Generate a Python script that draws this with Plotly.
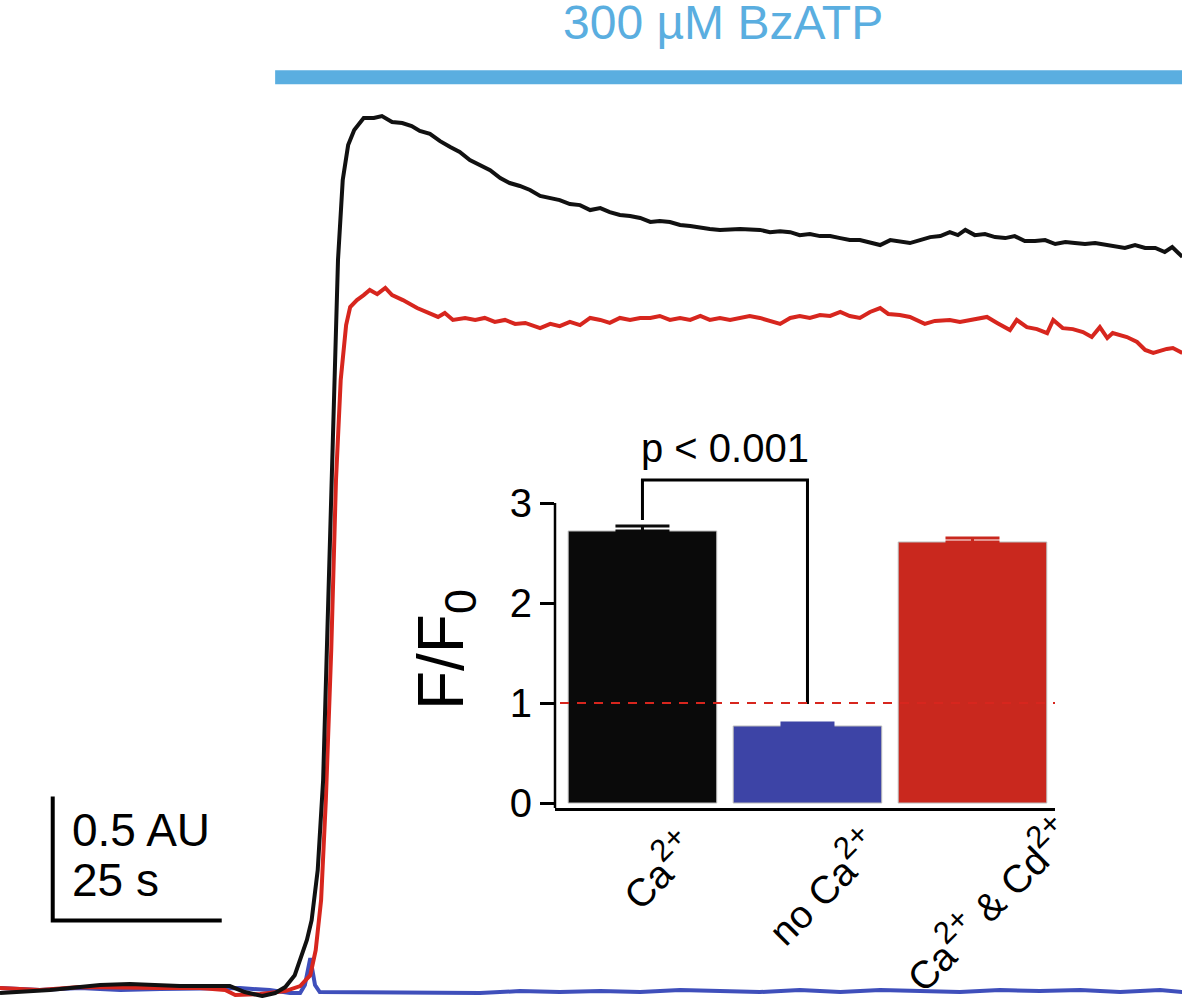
import plotly.graph_objects as go

# ---------------- data: calcium imaging traces (time in s, signal in AU) -------------
ca_t = [0.0, 7.4, 14.8, 19.2, 26.6, 34.0, 36.2, 38.8, 40.7, 42.2, 43.6, 45.4, 46.1, 47.0, 47.8,
        48.5, 49.3, 50.0, 50.7, 51.5, 52.4, 53.8, 55.3, 56.5, 58.0, 59.5, 60.9, 62.1, 63.6, 65.1,
        66.6, 68.0, 69.5, 71.0, 72.5, 74.0, 75.4, 76.9, 78.4, 79.9, 81.4, 82.8, 84.3, 85.8, 87.3,
        88.8, 90.2, 91.7, 93.2, 94.7, 96.2, 97.6, 99.1, 100.6, 102.1, 103.6, 105.0, 106.5, 109.5,
        112.4, 113.9, 115.4, 116.9, 118.3, 119.8, 121.3, 122.8, 124.3, 125.7, 127.2, 128.7, 130.2,
        131.7, 133.1, 134.6, 136.1, 137.6, 139.1, 140.5, 141.7, 142.8, 144.2, 145.7, 147.2, 148.7,
        150.1, 151.6, 153.1, 154.6, 156.1, 157.6, 159.0, 160.5, 162.0, 163.5, 165.0, 166.4, 167.9,
        169.4, 170.9, 172.3, 173.4, 174.9]
ca_v = [-0.012, 0.000, 0.020, 0.024, 0.016, 0.016, -0.008, -0.024, -0.012, 0.012, 0.060, 0.202,
        0.282, 0.484, 0.847, 1.492, 2.298, 2.944, 3.266, 3.407, 3.468, 3.516, 3.516, 3.524, 3.500,
        3.496, 3.484, 3.464, 3.452, 3.423, 3.399, 3.379, 3.347, 3.327, 3.306, 3.274, 3.254, 3.242,
        3.226, 3.202, 3.194, 3.185, 3.169, 3.165, 3.145, 3.153, 3.137, 3.125, 3.121, 3.113, 3.097,
        3.101, 3.097, 3.085, 3.081, 3.073, 3.069, 3.065, 3.069, 3.065, 3.056, 3.060, 3.056, 3.044,
        3.048, 3.040, 3.040, 3.032, 3.024, 3.024, 3.016, 3.004, 3.024, 3.020, 3.012, 3.024, 3.036,
        3.040, 3.056, 3.044, 3.065, 3.044, 3.048, 3.036, 3.032, 3.040, 3.020, 3.020, 3.024, 3.008,
        3.016, 3.012, 3.008, 3.012, 3.004, 3.000, 2.992, 3.004, 2.992, 2.992, 2.976, 2.996, 2.956]

cd_t = [0.0, 5.9, 11.8, 17.8, 23.7, 29.6, 33.3, 34.8, 38.5, 42.2, 44.4, 45.9, 46.7, 47.5, 48.2,
        49.0, 49.7, 50.4, 51.2, 51.8, 52.8, 53.8, 54.7, 55.8, 57.0, 58.0, 59.6, 61.7, 63.6, 64.8,
        65.8, 67.0, 68.8, 70.3, 71.7, 73.2, 74.7, 76.2, 77.7, 79.9, 81.4, 82.8, 84.3, 85.8, 87.3,
        88.8, 90.2, 91.7, 93.2, 94.7, 96.2, 97.6, 99.1, 100.6, 102.1, 103.6, 105.0, 106.5, 108.0,
        109.5, 110.9, 112.4, 113.9, 115.4, 116.9, 118.3, 119.8, 121.3, 122.8, 124.3, 125.7, 127.2,
        128.7, 130.2, 131.4, 133.1, 134.6, 136.8, 138.3, 140.5, 142.0, 143.5, 146.0, 147.5, 149.4,
        150.4, 151.9, 153.4, 154.9, 155.8, 157.2, 158.7, 160.2, 161.5, 162.7, 163.8, 164.6, 166.7,
        168.2, 169.4, 170.6, 172.6, 173.5, 174.9]
cd_v = [0.008, 0.000, 0.012, 0.008, 0.008, 0.008, 0.000, -0.020, -0.016, -0.004, 0.016, 0.060,
        0.161, 0.363, 0.766, 1.371, 2.056, 2.460, 2.681, 2.754, 2.782, 2.802, 2.823, 2.806, 2.831,
        2.802, 2.782, 2.750, 2.730, 2.714, 2.730, 2.702, 2.710, 2.702, 2.710, 2.694, 2.702, 2.686,
        2.690, 2.669, 2.686, 2.677, 2.694, 2.681, 2.710, 2.702, 2.690, 2.710, 2.702, 2.710, 2.710,
        2.718, 2.702, 2.710, 2.702, 2.718, 2.702, 2.710, 2.702, 2.710, 2.718, 2.710, 2.698, 2.686,
        2.710, 2.718, 2.710, 2.722, 2.718, 2.734, 2.718, 2.710, 2.734, 2.750, 2.726, 2.722, 2.714,
        2.686, 2.698, 2.702, 2.694, 2.702, 2.714, 2.690, 2.661, 2.702, 2.673, 2.665, 2.649, 2.702,
        2.669, 2.665, 2.653, 2.633, 2.673, 2.629, 2.649, 2.633, 2.613, 2.581, 2.569, 2.585, 2.589,
        2.569]

noca_t = [0.0, 5.9, 11.8, 17.8, 23.7, 29.6, 35.5, 39.9, 42.9, 44.4, 45.1, 45.9, 46.6, 47.3, 53.3,
          59.2, 65.1, 71.0, 76.9, 82.8, 88.8, 94.7, 100.6, 106.5, 112.4, 118.3, 124.3, 130.2,
          136.1, 142.0, 147.9, 153.8, 159.8, 165.7, 171.6, 174.9]
noca_v = [0.008, 0.000, 0.008, 0.000, 0.004, 0.004, 0.008, 0.000, -0.012, -0.012, 0.020, 0.129,
          0.020, -0.008, -0.008, -0.012, -0.008, -0.012, -0.004, -0.008, -0.004, -0.008, 0.000,
          -0.004, -0.008, 0.000, -0.008, 0.000, -0.004, -0.008, 0.000, -0.004, 0.000, -0.008,
          0.000, -0.008]

# agonist application window (s) and scale bar
drug_label = "300 µM BzATP"
drug_on, drug_off = 40.7, 174.9
scale_t0, scale_v0 = 7.8, 0.28
scale_dt, scale_dv = 25, 0.5

# ---------------- data: inset summary -----------------------------------------------
SUP = '<sup style="font-size:80% !important">2+</sup>'
categories = ["Ca" + SUP, "no Ca" + SUP, "Ca" + SUP + " &amp; Cd" + SUP]
ff0_mean = [2.72, 0.77, 2.61]
ff0_sem = [0.05, 0.03, 0.04]
bar_colors = ["#0a0a0a", "#3d44a6", "#c9281e"]
p_text = "p < 0.001"
y_ticks = [0, 1, 2, 3]

W, H = 1182, 998          # reference geometry (positions below are fractions of this)
FIG_H = 1015              # rendered height (photo is squeezed vertically to 998)
FONT = "Liberation Sans, Arial, Helvetica, sans-serif"
BLUE_BAR = "#5aaee0"

fig = go.Figure()

# traces
fig.add_trace(go.Scatter(x=noca_t, y=noca_v, mode="lines",
                         line=dict(color="#3f4fbb", width=4), xaxis="x", yaxis="y"))
fig.add_trace(go.Scatter(x=cd_t, y=cd_v, mode="lines",
                         line=dict(color="#d7261e", width=4), xaxis="x", yaxis="y"))
fig.add_trace(go.Scatter(x=ca_t, y=ca_v, mode="lines",
                         line=dict(color="#111111", width=4), xaxis="x", yaxis="y"))

# drug application bar
fig.add_trace(go.Scatter(x=[drug_on, drug_off], y=[3.681, 3.681], mode="lines",
                         line=dict(color=BLUE_BAR, width=14), xaxis="x", yaxis="y"))

# scale bar
fig.add_trace(go.Scatter(x=[scale_t0, scale_t0, scale_t0 + scale_dt],
                         y=[scale_v0 + scale_dv, scale_v0, scale_v0], mode="lines",
                         line=dict(color="black", width=4), xaxis="x", yaxis="y"))

# inset bars
fig.add_trace(go.Bar(x=[0, 1, 2], y=ff0_mean, width=0.9,
                     marker=dict(color=bar_colors, line=dict(color="#bbbbbb", width=1)),
                     xaxis="x2", yaxis="y2"))
for i in range(3):
    fig.add_trace(go.Scatter(x=[i], y=[ff0_mean[i]], mode="markers",
                             marker=dict(size=1, color=bar_colors[i], opacity=0),
                             error_y=dict(type="data", symmetric=False, array=[ff0_sem[i]],
                                          arrayminus=[0], color=bar_colors[i],
                                          thickness=3, width=27),
                             xaxis="x2", yaxis="y2"))

# significance bracket
fig.add_trace(go.Scatter(x=[0, 0, 1, 1], y=[ff0_mean[0] + ff0_sem[0] + 0.06, 3.23, 3.23, 0.99],
                         mode="lines", line=dict(color="black", width=3),
                         xaxis="x2", yaxis="y2"))

x2_dom = [555 / W, 1055 / W]
y2_dom = [(H - 808) / H, (H - 463) / H]

fig.update_layout(
    width=W, height=FIG_H, showlegend=False,
    margin=dict(l=0, r=0, t=0, b=0),
    paper_bgcolor="white", plot_bgcolor="rgba(0,0,0,0)",
    font=dict(family=FONT, color="black"),
    xaxis=dict(range=[0, 174.85], domain=[0, 1], visible=False, fixedrange=True),
    yaxis=dict(range=[-0.032, 3.992], domain=[0, 1], visible=False, fixedrange=True),
    xaxis2=dict(range=[-0.53, 2.5], domain=x2_dom, anchor="y2", showline=True,
                linecolor="black", linewidth=3, showticklabels=False, ticks="",
                showgrid=False, zeroline=False),
    yaxis2=dict(range=[-0.05, 3.4], domain=y2_dom, anchor="x2", showline=False,
                tickvals=y_ticks, ticks="outside", ticklen=14, tickwidth=2.5,
                tickcolor="black", tickfont=dict(size=40, family=FONT, color="black"),
                showgrid=False, zeroline=False),
    bargap=0.1,
)

shapes = [
    dict(type="line", xref="x2 domain", yref="y2", x0=0, x1=0, y0=-0.05, y1=3.0,
         line=dict(color="black", width=2.5)),
    dict(type="line", xref="x2 domain", yref="y2", x0=0.01, x1=1.0, y0=1, y1=1,
         line=dict(color="#d7261e", width=2.2, dash="9px,8px")),
]
fig.update_layout(shapes=shapes)

annotations = [
    dict(text=drug_label, xref="paper", yref="paper", x=723 / W, y=1 - 23 / H,
         showarrow=False, font=dict(size=48, color=BLUE_BAR, family=FONT),
         xanchor="center", yanchor="middle"),
    dict(text="0.5 AU", xref="paper", yref="paper", x=70 / W, y=1 - 830 / H,
         showarrow=False, font=dict(size=46, family=FONT), xanchor="left", yanchor="middle"),
    dict(text="25 s", xref="paper", yref="paper", x=70 / W, y=1 - 880 / H,
         showarrow=False, font=dict(size=46, family=FONT), xanchor="left", yanchor="middle"),
    dict(text=p_text, xref="x2", yref="paper", x=0.5, y=1 - 448 / H, showarrow=False,
         font=dict(size=40, family=FONT), xanchor="center", yanchor="middle"),
    dict(text="F/F<sub>0</sub>", xref="paper", yref="paper", x=445 / W, y=1 - 650 / H,
         showarrow=False, textangle=-90, font=dict(size=64, family=FONT),
         xanchor="center", yanchor="middle"),
]
label_y = [868, 884, 902]
for i, lab in enumerate(categories):
    annotations.append(dict(text=lab, xref="x2", yref="paper", x=i, y=1 - label_y[i] / H,
                            xshift=14, showarrow=False, textangle=-45,
                            font=dict(size=39, family=FONT),
                            xanchor="center", yanchor="middle"))
fig.update_layout(annotations=annotations)

page_fix = ("var b=document.body.style;b.margin='0';b.padding='0';b.overflow='hidden';")
fig.write_html("out.html", config={"displayModeBar": False}, post_script=page_fix)
